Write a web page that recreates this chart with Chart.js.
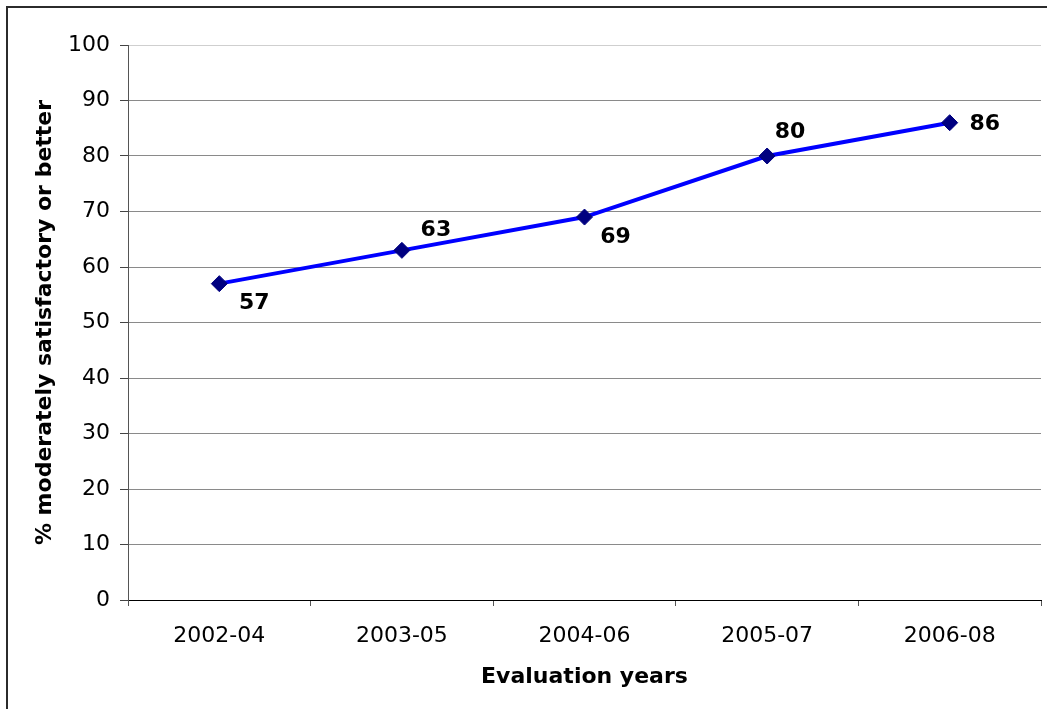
<!DOCTYPE html>
<html>
<head>
<meta charset="utf-8">
<script src="https://cdn.jsdelivr.net/npm/chart.js@4.4.1/dist/chart.umd.min.js"></script>
<style>
  html, body { margin: 0; padding: 0; background: #ffffff; }
  #wrap { position: relative; width: 1050px; height: 709px; overflow: hidden; }
  #frame {
    position: absolute; left: 6px; top: 6px; width: 1039px; height: 900px;
    border-left: 2px solid #2b2b2b; border-top: 2px solid #2b2b2b;
  }
  #c { position: absolute; left: 0; top: 0; }
</style>
</head>
<body>
<div id="wrap">
  <div id="frame"></div>
  <canvas id="c" width="1050" height="709"></canvas>
</div>
<script>
// Share of evaluations rated moderately satisfactory or better, by evaluation period
const periods = ['2002-04', '2003-05', '2004-06', '2005-07', '2006-08'];
const shareSatisfactory = [57, 63, 69, 80, 86];
const yTicks = [0, 10, 20, 30, 40, 50, 60, 70, 80, 90, 100];

const FONT = "'DejaVu Sans', Verdana, sans-serif";

// Value labels beside each marker, nudged to one side of the line
const valueLabels = {
  id: 'valueLabels',
  afterDatasetsDraw(chart, args, opts) {
    const ctx = chart.ctx;
    const meta = chart.getDatasetMeta(0);
    const values = chart.data.datasets[0].data;
    ctx.save();
    ctx.font = 'bold 22px ' + FONT;
    ctx.fillStyle = '#000000';
    ctx.textAlign = 'center';
    ctx.textBaseline = 'middle';
    meta.data.forEach((pt, i) => {
      const off = opts.offsets[i];
      ctx.fillText(String(values[i]), pt.x + off[0], pt.y + off[1]);
    });
    ctx.restore();
  }
};

new Chart(document.getElementById('c'), {
  type: 'line',
  data: {
    labels: periods,
    datasets: [{
      data: shareSatisfactory,
      borderColor: '#0000FF',
      borderWidth: 4,
      pointStyle: 'rectRot',
      pointRadius: 8,
      pointBorderWidth: 1,
      pointBackgroundColor: '#000080',
      pointBorderColor: '#000080',
      tension: 0,
      clip: false
    }]
  },
  options: {
    responsive: false,
    animation: false,
    devicePixelRatio: 1,
    layout: { padding: { top: 45, right: 5, left: 0, bottom: 0 } },
    plugins: {
      legend: { display: false },
      tooltip: { enabled: false },
      valueLabels: {
        offsets: [[35, 20], [34, -20], [31, 20], [23, -24], [35, 2]]
      }
    },
    scales: {
      x: {
        type: 'category',
        offset: true,
        afterFit(scale) { scale.height = 109; },
        border: { display: true, color: '#000000', width: 1 },
        grid: {
          offset: true,
          drawOnChartArea: false,
          drawTicks: true,
          tickLength: 6,
          tickColor: '#555555'
        },
        ticks: {
          color: '#000000',
          font: { family: FONT, size: 22 },
          padding: 17,
          maxRotation: 0
        },
        title: {
          display: true,
          text: 'Evaluation years',
          color: '#000000',
          font: { family: FONT, size: 22, weight: 'bold' },
          padding: { top: 0, bottom: 19 }
        }
      },
      y: {
        min: 0,
        max: 100,
        afterFit(scale) { scale.width = 128; },
        afterBuildTicks(scale) { scale.ticks = yTicks.map(v => ({ value: v })); },
        border: { display: true, color: '#555555', width: 1 },
        grid: {
          color: ctx => (ctx.tick && ctx.tick.value === 100) ? '#cfcfcf' : '#8a8a8a',
          lineWidth: 1,
          drawTicks: true,
          tickLength: 8,
          tickColor: '#444444'
        },
        ticks: {
          color: '#000000',
          font: { family: FONT, size: 22 },
          padding: 10
        },
        title: {
          display: true,
          text: '% moderately satisfactory or better',
          color: '#000000',
          font: { family: FONT, size: 22, weight: 'bold' },
          padding: { top: 32, bottom: 0 }
        }
      }
    }
  },
  plugins: [valueLabels]
});
</script>
</body>
</html>
